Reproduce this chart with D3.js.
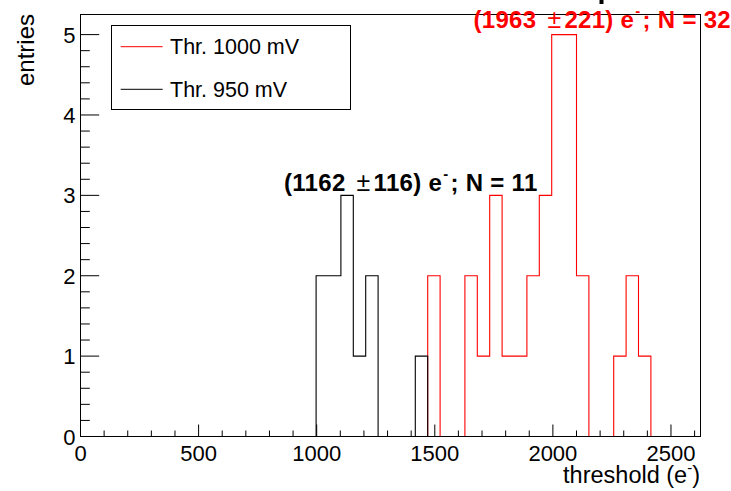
<!DOCTYPE html>
<html>
<head>
<meta charset="utf-8">
<script src="https://cdn.jsdelivr.net/npm/d3@7"></script>
<style>
  html, body { margin: 0; padding: 0; background: #fff; }
  svg { display: block; }
  text { font-family: "Liberation Sans", Arial, Helvetica, sans-serif; }
</style>
</head>
<body>
<svg id="chart" width="731" height="491"></svg>
<script>
// ---- data ----
const xRange = [0, 2625];
const nBins = 50;
// counts per bin (bin width 52.5 e-)
const countsThr950 = [
  0,0,0,0,0,0,0,0,0,0,
  0,0,0,0,0,0,0,0,0,2,
  2,3,1,2,0,0,0,1,0,0,
  0,0,0,0,0,0,0,0,0,0,
  0,0,0,0,0,0,0,0,0,0
];
const countsThr1000 = [
  0,0,0,0,0,0,0,0,0,0,
  0,0,0,0,0,0,0,0,0,0,
  0,0,0,0,0,0,0,0,2,0,
  0,2,1,3,1,1,2,3,5,5,
  2,0,0,1,2,1,0,0,0,0
];
const seriesNames = ["Thr. 1000 mV", "Thr. 950 mV"];
const seriesColors = ["#ff0000", "#000000"];
const xTickValues = [0, 500, 1000, 1500, 2000, 2500];
const yTickValues = [0, 1, 2, 3, 4, 5];
const annot950 = { mean: "(1162", err: "116) e", sup: "-", rest: "; N = 11" };
const annot1000 = { mean: "(1963", err: "221) e", sup: "-", rest: "; N = 32" };

// ---- layout ----
const svg = d3.select("#chart");
const L = 80.5, R = 700.5, T = 14.5, B = 436.5;
const x = d3.scaleLinear().domain(xRange).range([L, R]);
const y = d3.scaleLinear().domain([0, 5.25]).range([B, T]);
const binW = (xRange[1] - xRange[0]) / nBins;

// histograms
function stepPath(counts) {
  const pts = [[x(xRange[0]), y(0)]];
  counts.forEach((c, i) => {
    const x0 = xRange[0] + i * binW, x1 = x0 + binW;
    pts.push([x(x0), y(c)], [x(x1), y(c)]);
  });
  pts.push([x(xRange[1]), y(0)]);
  return d3.line()(pts);
}
svg.append("path").attr("d", stepPath(countsThr1000)).attr("fill", "none")
  .attr("stroke", seriesColors[0]).attr("stroke-width", 1.1);
svg.append("path").attr("d", stepPath(countsThr950)).attr("fill", "none")
  .attr("stroke", seriesColors[1]).attr("stroke-width", 1.1);

// frame
svg.append("rect").attr("x", L).attr("y", T).attr("width", R - L).attr("height", B - T)
  .attr("fill", "none").attr("stroke", "#000").attr("stroke-width", 1);

// x ticks
const xMinor = d3.range(0, 2601, 100);
svg.append("g").selectAll("line").data(xMinor).join("line")
  .attr("x1", d => x(d)).attr("x2", d => x(d))
  .attr("y1", B).attr("y2", d => B - (d % 500 === 0 ? 12 : 6))
  .attr("stroke", "#000").attr("stroke-width", 1);
svg.append("g").selectAll("text").data(xTickValues).join("text")
  .attr("x", d => x(d)).attr("y", 460.5)
  .attr("text-anchor", "middle").attr("font-size", 22).text(d => d);

// y ticks
const yMinor = d3.range(0, 26).map(i => i * 0.2);
svg.append("g").selectAll("line").data(yMinor).join("line")
  .attr("x1", L).attr("x2", (d, i) => L + (i % 5 === 0 ? 18.7 : 9.3))
  .attr("y1", d => y(d)).attr("y2", d => y(d))
  .attr("stroke", "#000").attr("stroke-width", 1);
svg.append("g").selectAll("text").data(yTickValues).join("text")
  .attr("x", 75.5).attr("y", d => y(d) + 8)
  .attr("text-anchor", "end").attr("font-size", 22).text(d => d);

// axis titles
const xt = svg.append("text").attr("x", 700).attr("y", 483).attr("text-anchor", "end").attr("font-size", 23.5);
xt.append("tspan").text("threshold (e");
xt.append("tspan").attr("dy", -10).attr("font-size", 15).text("-");
xt.append("tspan").attr("dy", 10).text(")");

svg.append("text").attr("transform", "translate(34,14) rotate(-90)")
  .attr("text-anchor", "end").attr("font-size", 24).text("entries");

// legend
const lg = svg.append("g");
lg.append("rect").attr("x", 111.5).attr("y", 25.5).attr("width", 239).attr("height", 84)
  .attr("fill", "#fff").attr("stroke", "#000").attr("stroke-width", 1);
seriesNames.forEach((name, i) => {
  const yy = 46.7 + i * 42.6;
  lg.append("line").attr("x1", 120.7).attr("x2", 162.7).attr("y1", yy).attr("y2", yy)
    .attr("stroke", seriesColors[i]).attr("stroke-width", 1);
  lg.append("text").attr("x", 170).attr("y", yy + 7.7).attr("font-size", 21.5).text(name);
});

// annotations
function annot(a, xx, yy, color) {
  const t = svg.append("text").attr("x", xx).attr("y", yy).attr("font-size", 24)
    .attr("font-weight", "bold").attr("fill", color).attr("letter-spacing", 0.3);
  t.append("tspan").text(a.mean);
  t.append("tspan").attr("dx", 11).attr("font-weight", "normal").attr("font-size", 25).text("±");
  t.append("tspan").attr("dx", 3).text(a.err);
  t.append("tspan").attr("dx", 1).attr("dy", -12).attr("font-size", 15).text(a.sup);
  t.append("tspan").attr("dx", 2).attr("dy", 12).text(a.rest);
  return t;
}
annot(annot950, 284, 191, "#000");
annot(annot1000, 473.5, 27.5, "#ff0000");

// cut-off element at top edge
svg.append("rect").attr("x", 599.5).attr("y", 0).attr("width", 4).attr("height", 4).attr("fill", "#000");
</script>
</body>
</html>
